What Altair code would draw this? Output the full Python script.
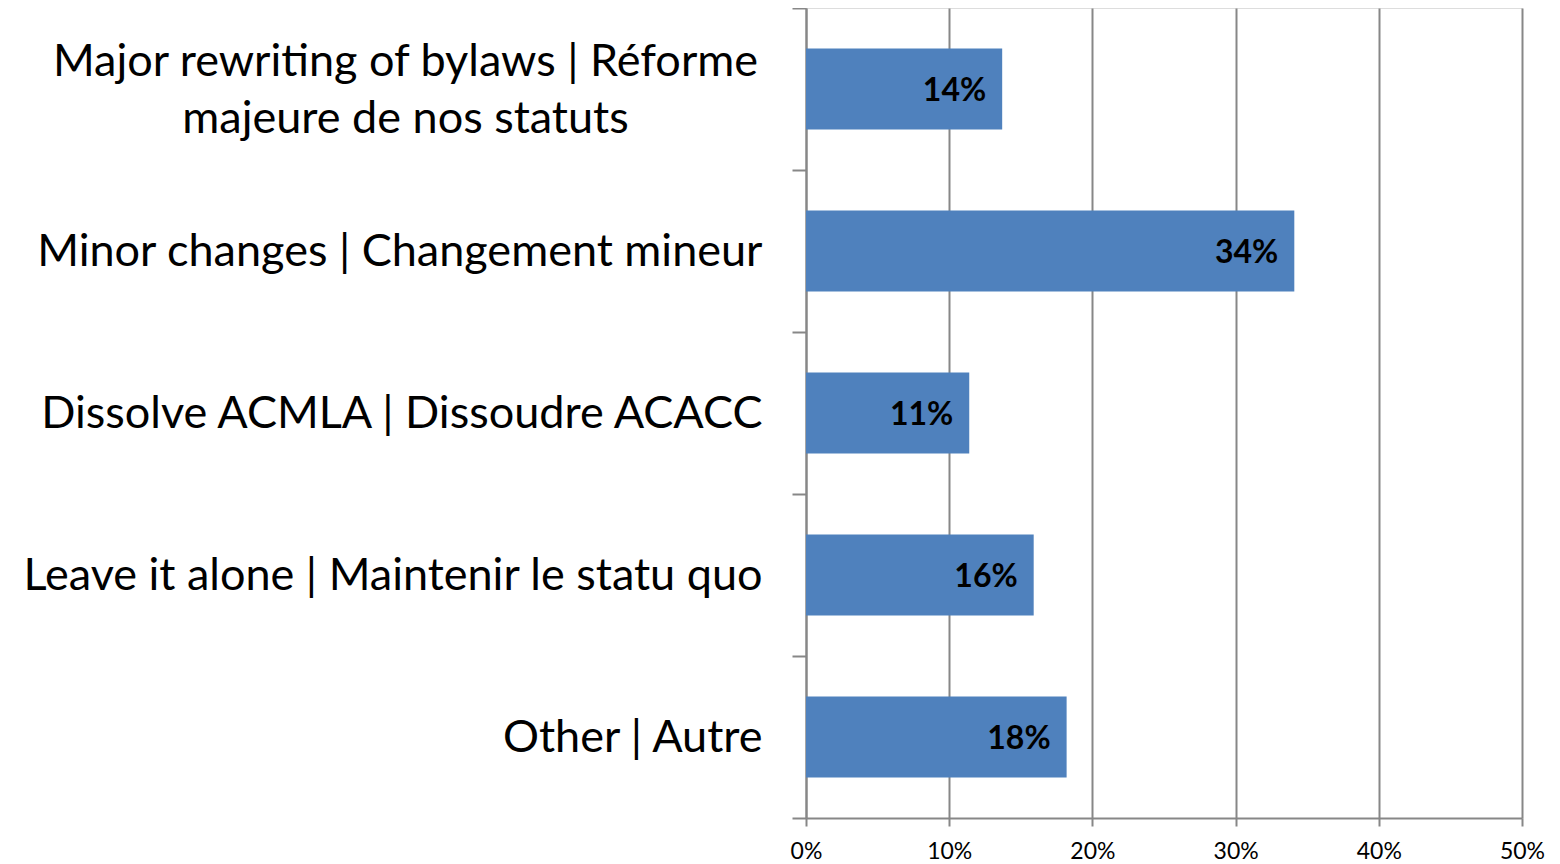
import altair as alt
import pandas as pd

categories = [
    "Major rewriting of bylaws | Réforme\nmajeure de nos statuts",
    "Minor changes | Changement mineur",
    "Dissolve ACMLA | Dissoudre ACACC",
    "Leave it alone | Maintenir le statu quo",
    "Other | Autre",
]
values = [0.137, 0.341, 0.114, 0.159, 0.182]
x_ticks = [0, 0.1, 0.2, 0.3, 0.4, 0.5]

df = pd.DataFrame({"category": categories, "value": values})

FONT = "Lato"
GRID = "#878787"
IS_FIRST = "indexof(datum.label, 'Major') == 0"

y_enc = alt.Y(
    "category:N",
    sort=categories,
    scale=alt.Scale(paddingInner=0, paddingOuter=0),
    axis=alt.Axis(
        title=None,
        labelExpr="split(datum.label, '\\n')",
        labelFont=FONT,
        labelFontSize=45,
        labelColor="black",
        labelLineHeight=57,
        labelAlign=alt.condition(IS_FIRST, alt.value("center"), alt.value("right")),
        labelPadding=alt.condition(IS_FIRST, alt.value(387), alt.value(30)),
        labelOffset=alt.condition(IS_FIRST, alt.value(-28), alt.value(0)),
        labelLimit=0,
        tickBand="extent",
        tickSize=14,
        tickColor=GRID,
        tickWidth=2,
        domainColor=GRID,
        domainWidth=2,
        grid=False,
    ),
)

x_enc = alt.X(
    "value:Q",
    scale=alt.Scale(domain=[0, 0.5], nice=False),
    axis=alt.Axis(
        title=None,
        values=x_ticks,
        format=".0%",
        labelFont=FONT,
        labelFontSize=23,
        labelColor="black",
        labelPadding=14,
        labelFlush=False,
        tickSize=8,
        tickColor=GRID,
        tickWidth=2,
        domainColor=GRID,
        domainWidth=2,
        grid=True,
        gridColor=GRID,
        gridWidth=2,
    ),
)

bars = alt.Chart(df).mark_bar(color="#4F81BD", height=alt.RelativeBandSize(0.5)).encode(x=x_enc, y=y_enc)

labels = alt.Chart(df).mark_text(
    align="right", baseline="middle", dx=-16, dy=2,
    font=FONT, fontSize=32, fontWeight="bold", color="black",
).encode(
    x="value:Q",
    y=alt.Y("category:N", sort=categories),
    text=alt.Text("value:Q", format=".0%"),
)

chart = alt.layer(bars, labels).properties(
    width=716,
    height=810,
    autosize=alt.AutoSizeParams(type="none"),
    padding={"left": 798, "top": 0, "right": 30, "bottom": 46},
).configure_view(stroke="transparent", strokeWidth=0).configure(background="white")

chart.save("out.html", embed_options={"renderer": "svg", "actions": False})
